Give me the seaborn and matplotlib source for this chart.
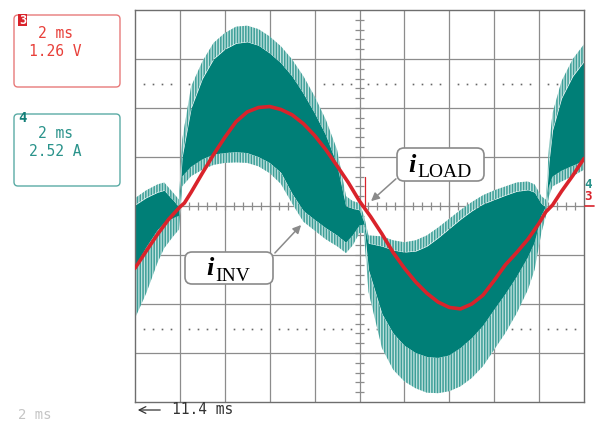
import numpy as np
import pandas as pd
import matplotlib.pyplot as plt
from matplotlib.patches import FancyBboxPatch, Rectangle
import seaborn as sns

t_env = [0, 0.25, 0.5, 0.65, 0.85, 0.98, 1.05, 1.25, 1.5, 1.75, 2.0, 2.25, 2.5, 2.75,
         3.0, 3.25, 3.5, 3.75, 4.0, 4.25, 4.5, 4.7, 4.85, 5.0, 5.1, 5.2, 5.5, 5.75,
         6.0, 6.25, 6.5, 6.75, 7.0, 7.25, 7.5, 7.75, 8.0, 8.25, 8.5, 8.75, 8.9, 9.05,
         9.15, 9.22, 9.3, 9.5, 9.75, 10.0]

# courant onduleur : enveloppe des pointes et du coeur plein
inv_upper_outer = [0.16, 0.32, 0.44, 0.48, 0.27, 0.13, 1.35, 2.44, 2.95, 3.33, 3.53, 3.66,
                   3.68, 3.61, 3.46, 3.26, 2.99, 2.65, 2.24, 1.76, 1.15, 0.20, 0.10, 0.06,
                   -0.20, -0.60, -0.62, -0.70, -0.74, -0.70, -0.60, -0.44, -0.26, -0.08,
                   0.08, 0.22, 0.32, 0.40, 0.48, 0.50, 0.44, 0.20, 0.13, 1.20, 1.90,
                   2.55, 3.00, 3.30]
inv_upper_inner = [0.02, 0.17, 0.28, 0.32, 0.12, -0.02, 1.00, 2.00, 2.60, 3.00, 3.20, 3.32,
                   3.35, 3.28, 3.12, 2.92, 2.65, 2.30, 1.90, 1.45, 0.85, 0.00, -0.05, -0.08,
                   -0.32, -0.76, -0.82, -0.90, -0.94, -0.92, -0.82, -0.65, -0.46, -0.27,
                   -0.10, 0.04, 0.13, 0.22, 0.30, 0.33, 0.28, 0.05, -0.02, 0.90, 1.55,
                   2.20, 2.65, 2.95]
inv_lower_inner = [-1.25, -0.85, -0.50, -0.35, -0.25, -0.20, 0.60, 0.80, 0.95, 1.05, 1.08,
                   1.10, 1.08, 1.00, 0.88, 0.68, 0.25, -0.10, -0.28, -0.45, -0.60, -0.75,
                   -0.60, -0.40, -0.38, -1.30, -2.20, -2.60, -2.85, -3.00, -3.08, -3.10,
                   -3.05, -2.90, -2.70, -2.45, -2.12, -1.80, -1.45, -1.05, -0.75, -0.20,
                   -0.02, 0.40, 0.60, 0.72, 0.82, 0.92]
inv_lower_outer = [-2.29, -1.78, -1.16, -0.86, -0.62, -0.48, 0.40, 0.61, 0.74, 0.84, 0.88,
                   0.89, 0.88, 0.81, 0.67, 0.45, 0.05, -0.32, -0.50, -0.68, -0.82, -0.96,
                   -0.80, -0.55, -0.55, -1.75, -2.90, -3.34, -3.58, -3.72, -3.81, -3.82,
                   -3.78, -3.68, -3.51, -3.27, -2.93, -2.59, -2.19, -1.71, -1.30, -0.55,
                   -0.21, 0.20, 0.40, 0.50, 0.61, 0.74]

# courant de charge
t_load = [0, 0.25, 0.5, 0.75, 0.9, 1.0, 1.1, 1.25, 1.5, 1.75, 2.0, 2.25, 2.5, 2.75, 3.0,
          3.25, 3.5, 3.75, 4.0, 4.25, 4.5, 4.75, 5.0, 5.25, 5.5, 5.75, 6.0, 6.25,
          6.5, 6.75, 7.0, 7.25, 7.5, 7.75, 8.0, 8.25, 8.5, 8.75, 9.0, 9.15, 9.3, 9.5,
          9.75, 10.0]
i_load = [-1.27, -0.92, -0.58, -0.27, -0.12, -0.02, 0.06, 0.28, 0.67, 1.05, 1.40, 1.72,
          1.92, 2.01, 2.03, 1.97, 1.86, 1.68, 1.44, 1.15, 0.82, 0.48, 0.10, -0.22,
          -0.57, -0.95, -1.27, -1.55, -1.78, -1.96, -2.07, -2.10, -2.00, -1.82, -1.52,
          -1.20, -0.95, -0.68, -0.35, -0.12, 0.02, 0.30, 0.62, 0.97]

TRIGGER_T = 5.12

df_inv = pd.DataFrame({'t': t_env, 'uo': inv_upper_outer, 'ui': inv_upper_inner,
                       'li': inv_lower_inner, 'lo': inv_lower_outer})
df_load = pd.DataFrame({'t': t_load, 'i': i_load})

# --- style ---
sns.set_theme(style="white")
plt.rcParams['font.family'] = ['DejaVu Sans']
plt.rcParams['hatch.linewidth'] = 1.1

TEAL = '#007f77'
TEAL_LIGHT = '#c3e3e0'
TEAL_HATCH = '#3d9f98'
TEAL_TXT = '#2a938b'
RED = '#d9232b'
RED_TXT = '#e8403a'
GRID = '#8c8c8c'

fig = plt.figure(figsize=(5.95, 4.24), dpi=100)
ax = fig.add_axes([135 / 595, 22 / 424, 449 / 595, 392 / 424])
ax.set_xlim(0, 10)
ax.set_ylim(-4, 4)
ax.set_xticks([])
ax.set_yticks([])
for s in ax.spines.values():
    s.set_color('#6e6e6e')
    s.set_linewidth(1.0)

# 1: graticule
for x in range(1, 10):
    ax.axvline(x, color=GRID, lw=0.9, zorder=1)
for y in range(-3, 4):
    ax.axhline(y, color=GRID, lw=0.9, zorder=1)
minor = np.arange(0.2, 10, 0.2)
ax.vlines(minor, -0.09, 0.09, color=GRID, lw=0.9, zorder=1)
minor_y = np.arange(-3.8, 4, 0.2)
ax.hlines(minor_y, 4.9, 5.1, color=GRID, lw=0.9, zorder=1)
dots = [v for v in minor if abs(v - round(v)) > 0.05]
for yd in (2.5, -2.5):
    ax.plot(dots, [yd] * len(dots), ls='none', marker='s', ms=1.2, mew=0,
            color='#666666', zorder=1)

# 2: courant onduleur (coeur + pointes de decoupage)
ax.fill_between(df_inv['t'], df_inv['li'], df_inv['ui'], color=TEAL, lw=0, zorder=2)
ax.fill_between(df_inv['t'], df_inv['ui'], df_inv['uo'], facecolor=TEAL_LIGHT,
                edgecolor=TEAL_HATCH, hatch='||||||', lw=0, zorder=2)
ax.fill_between(df_inv['t'], df_inv['lo'], df_inv['li'], facecolor=TEAL_LIGHT,
                edgecolor=TEAL_HATCH, hatch='||||||', lw=0, zorder=2)

# 3: courant de charge
sns.lineplot(data=df_load, x='t', y='i', ax=ax, color=RED, lw=2.6, sort=False,
             estimator=None, zorder=3)
ax.plot([TRIGGER_T, TRIGGER_T], [0, 0.6], color=RED, lw=0.9, zorder=3)
ax.set_xlabel('')
ax.set_ylabel('')

# 4: calque en pixels pour les textes de l'oscilloscope
ov = fig.add_axes([0, 0, 1, 1], zorder=5)
ov.set_xlim(0, 595)
ov.set_ylim(424, 0)
ov.axis('off')
ov.patch.set_alpha(0)

mono = 'DejaVu Sans Mono'
ov.add_patch(FancyBboxPatch((14, 15), 106, 72, boxstyle='round,pad=0,rounding_size=4',
                            fc='none', ec='#e87a7a', lw=1.0))
ov.add_patch(Rectangle((18, 14), 9, 12, fc=RED, ec=RED, lw=0))
ov.text(22.5, 20.5, '3', color='white', fontsize=8.5, fontweight='bold',
        ha='center', va='center', family=mono)
ov.text(55, 33, '2 ms', color=RED_TXT, fontsize=10.5, ha='center', va='center', family=mono)
ov.text(55, 52, '1.26 V', color=RED_TXT, fontsize=10.5, ha='center', va='center', family=mono)

ov.add_patch(FancyBboxPatch((14, 114), 106, 72, boxstyle='round,pad=0,rounding_size=4',
                            fc='none', ec='#5aaba5', lw=1.0))
ov.text(22.5, 118, '4', color='#137f78', fontsize=10, fontweight='bold',
        ha='center', va='center', family=mono)
ov.text(55, 133, '2 ms', color=TEAL_TXT, fontsize=10.5, ha='center', va='center', family=mono)
ov.text(55, 151, '2.52 A', color=TEAL_TXT, fontsize=10.5, ha='center', va='center', family=mono)

ov.text(35, 415, '2 ms', color='#c4c4c4', fontsize=10, ha='center', va='center', family=mono)
ov.annotate('', xy=(135, 410), xytext=(163, 410),
            arrowprops=dict(arrowstyle='->', color='#333333', lw=0.9))
ov.text(172, 410, '11.4 ms', color='#333333', fontsize=10.5, ha='left', va='center', family=mono)

# reperes de voies a droite
ov.text(588, 184, '4', color=TEAL_TXT, fontsize=9, fontweight='bold', ha='center', va='center', family=mono)
ov.text(588, 196, '3', color=RED, fontsize=9, fontweight='bold', ha='center', va='center', family=mono)
ov.plot([585, 594], [206, 206], color=RED, lw=1.2)

# 5: etiquettes i_LOAD et i_INV
serif = 'Liberation Serif'
ov.add_patch(FancyBboxPatch((397, 148), 87, 33, boxstyle='round,pad=0,rounding_size=7',
                            fc='white', ec='#8a8a8a', lw=1.2))
ov.text(408, 172, 'i', family=serif, style='italic', fontweight='bold', fontsize=19,
        ha='left', va='baseline', color='black')
ov.text(417, 177, 'LOAD', family=serif, fontsize=14, ha='left', va='baseline', color='black')
ov.annotate('', xy=(369, 203), xytext=(398, 177),
            arrowprops=dict(arrowstyle='-|>', color='#8a8a8a', lw=1.1, mutation_scale=12))

ov.add_patch(FancyBboxPatch((185, 252), 88, 32, boxstyle='round,pad=0,rounding_size=7',
                            fc='white', ec='#8a8a8a', lw=1.2))
ov.text(206, 275, 'i', family=serif, style='italic', fontweight='bold', fontsize=19,
        ha='left', va='baseline', color='black')
ov.text(215, 281, 'INV', family=serif, fontsize=14, ha='left', va='baseline', color='black')
ov.annotate('', xy=(303, 223), xytext=(273, 255),
            arrowprops=dict(arrowstyle='-|>', color='#8a8a8a', lw=1.1, mutation_scale=12))

plt.savefig('out.png', dpi=100)
print("Graphique sauvegarde : out.png")
